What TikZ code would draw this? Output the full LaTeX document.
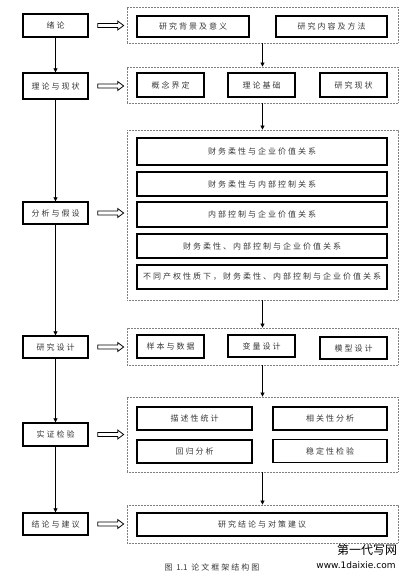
\documentclass[tikz,border=0pt]{standalone}
\usepackage{fontspec}
\newfontfamily\cjk[LetterSpace=25]{Noto Sans CJK SC}
\newfontfamily\wmfont{Noto Sans CJK SC}
\newfontfamily\wmlat{DejaVu Sans}
\usetikzlibrary{arrows.meta,calc}
\colorlet{txt}{black!78}
\tikzset{
  lbox/.style={draw, line width=1.3pt, minimum width=65pt, inner sep=0pt, text=txt, font=\cjk\fontsize{8}{9}\selectfont},
  ibox/.style={draw, line width=1.5pt, inner sep=0pt, text=txt, font=\cjk\fontsize{8}{9}\selectfont},
  dbox/.style={draw=gray, line width=0.8pt, dash pattern=on 0.8pt off 0.7pt, minimum width=271pt, inner sep=0pt},
  conn/.style={line width=0.7pt, -{Triangle[length=4pt,width=4pt]}},
  hollow/.style={draw, line width=0.8pt, fill=white},
}
\newcommand\hollowarrow[1]{\draw[hollow] ($(#1.east)+(9,0)$) ++(0,-2) -- ++(20,0) -- ++(0,-2.5) -- ++(6,4.5) -- ++(-6,4.5) -- ++(0,-2.5) -- ++(-20,0) -- cycle;}
\begin{document}
\begin{tikzpicture}[x=1pt,y=-1pt]
\useasboundingbox (0,0) rectangle (417,578);
% left column
\node[lbox, minimum height=23pt] (l1) at (55.5,25.5) {绪论};
\node[lbox, minimum height=26pt] (l2) at (55.5,86) {理论与现状};
\node[lbox, minimum height=22pt] (l3) at (55.5,213) {分析与假设};
\node[lbox, minimum height=22pt] (l4) at (55.5,347) {研究设计};
\node[lbox, minimum height=23pt] (l5) at (55.5,434.5) {实证检验};
\node[lbox, minimum height=22pt] (l6) at (55.5,524) {结论与建议};
% dotted containers
\node[dbox, minimum height=36pt] (d1) at (262.5,25) {};
\node[dbox, minimum height=36pt] (d2) at (262.5,85) {};
\node[dbox, minimum height=170pt] (d3) at (262.5,215) {};
\node[dbox, minimum height=37pt] (d4) at (262.5,346.5) {};
\node[dbox, minimum height=75pt] (d5) at (262.5,434.5) {};
\node[dbox, minimum height=38pt] (d6) at (262.5,524) {};
% inner boxes
\node[ibox, minimum width=112pt, minimum height=21pt] (a1) at (193,26.5) {研究背景及意义};
\node[ibox, minimum width=111pt, minimum height=21pt] (a2) at (331.5,26.5) {研究内容及方法};
\node[ibox, minimum width=67pt, minimum height=24pt] (b1) at (170.5,85) {概念界定};
\node[ibox, minimum width=67pt, minimum height=24pt] (b2) at (261.5,85) {理论基础};
\node[ibox, minimum width=67pt, minimum height=24pt] (b3) at (353.5,85) {研究现状};
\node[ibox, minimum width=250pt, minimum height=27pt] (c1) at (262,151.5) {财务柔性与企业价值关系};
\node[ibox, minimum width=250pt, minimum height=24pt] (c2) at (262,184) {财务柔性与内部控制关系};
\node[ibox, minimum width=250pt, minimum height=25pt] (c3) at (262,214.5) {内部控制与企业价值关系};
\node[ibox, minimum width=250pt, minimum height=24pt] (c4) at (262,246) {财务柔性、内部控制与企业价值关系};
\node[ibox, minimum width=250pt, minimum height=24pt] (c5) at (262,277) {不同产权性质下，财务柔性、内部控制与企业价值关系};
\node[ibox, minimum width=67pt, minimum height=23pt] (e1) at (170.5,346.5) {样本与数据};
\node[ibox, minimum width=67pt, minimum height=22pt] (e2) at (261.5,346) {变量设计};
\node[ibox, minimum width=67pt, minimum height=22pt] (e3) at (353.5,348) {模型设计};
\node[ibox, minimum width=115pt, minimum height=23pt] (f1) at (194.5,418.5) {描述性统计};
\node[ibox, minimum width=114pt, minimum height=23pt] (f2) at (330,418.5) {相关性分析};
\node[ibox, minimum width=115pt, minimum height=23pt] (f3) at (194.5,451.5) {回归分析};
\node[ibox, minimum width=114pt, minimum height=23pt] (f4) at (330,451) {稳定性检验};
\node[ibox, minimum width=250pt, minimum height=23pt] (g1) at (262,524.5) {研究结论与对策建议};
% left connectors
\draw[conn] (l1.south) -- (l2.north);
\draw[conn] (l2.south) -- (l3.north);
\draw[conn] (l3.south) -- (l4.north);
\draw[conn] (l4.south) -- (l5.north);
\draw[conn] (l5.south) -- (l6.north);
% right connectors
\draw[conn] (d1.south) -- (d2.north);
\draw[conn] (d2.south) -- (d3.north);
\draw[conn] (d3.south) -- (d4.north);
\draw[conn] (d4.south) -- (d5.north);
\draw[conn] (d5.south) -- (d6.north);
% hollow arrows
\hollowarrow{l1}
\hollowarrow{l2}
\hollowarrow{l3}
\hollowarrow{l4}
\hollowarrow{l5}
\hollowarrow{l6}
% caption
\node[text=txt, font=\cjk\fontsize{8}{9}\selectfont, inner sep=0pt] (cap) at (212,567) {图 {\wmfont 1.1} 论文框架结构图};
% watermark
\node[font=\wmfont\fontsize{12}{13}\selectfont, inner sep=0pt] (wm1) at (367,550) {第一代写网};
\node[font=\wmlat\fontsize{9}{10}\selectfont, inner sep=0pt] (wm2) at (356,565) {www.1daixie.com};
\end{tikzpicture}
\end{document}
